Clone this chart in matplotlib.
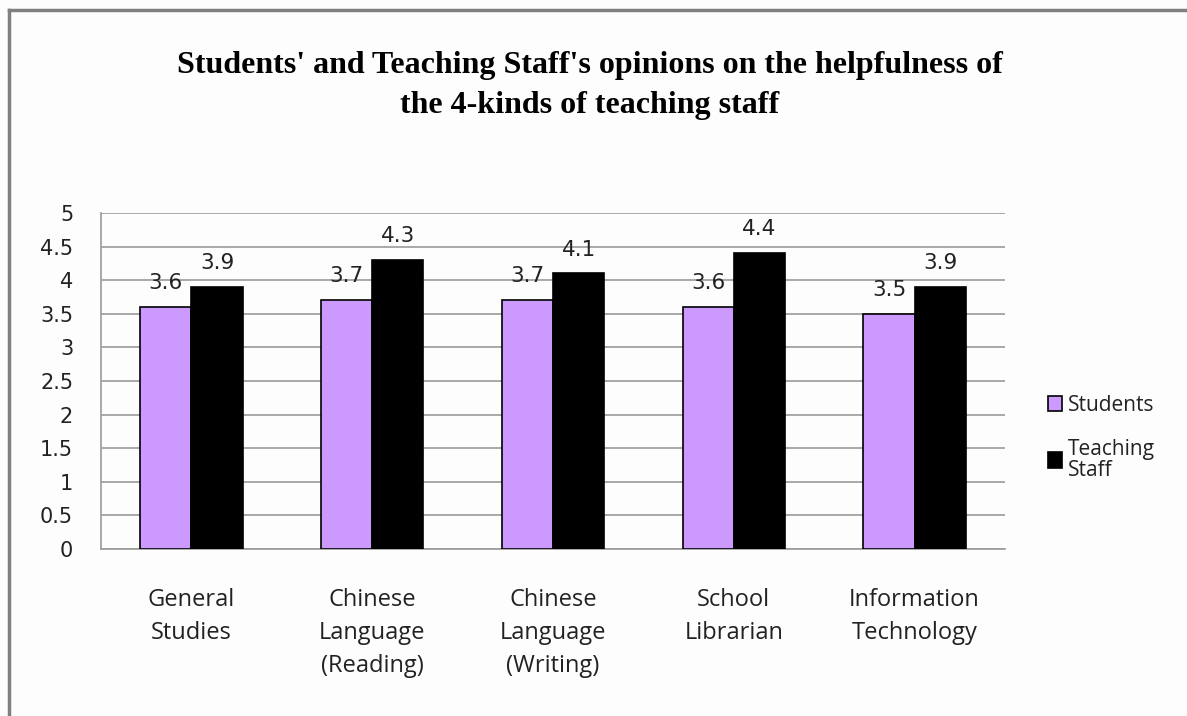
import matplotlib
matplotlib.use("Agg")
import matplotlib.pyplot as plt
from matplotlib.lines import Line2D
import numpy as np

categories = ["General\nStudies", "Chinese\nLanguage\n(Reading)", "Chinese\nLanguage\n(Writing)",
              "School\nLibrarian", "Information\nTechnology"]
students = [3.6, 3.7, 3.7, 3.6, 3.5]
staff = [3.9, 4.3, 4.1, 4.4, 3.9]
series_names = ["Students", "Teaching\nStaff"]
yticks = [0, 0.5, 1, 1.5, 2, 2.5, 3, 3.5, 4, 4.5, 5]
title = "Students' and Teaching Staff's opinions on the helpfulness of\nthe 4-kinds of teaching staff"

W, H = 1187, 716
fig = plt.figure(figsize=(W / 100, H / 100), dpi=100)
fig.patch.set_facecolor("#FDFDFD")

# frame
fig.add_artist(Line2D([9 / W, 9 / W], [0, 1 - 10 / H], color="#808080", lw=2.5))
fig.add_artist(Line2D([9 / W, 1], [1 - 10 / H, 1 - 10 / H], color="#808080", lw=2.5))

ax = fig.add_axes([101 / W, 1 - 549 / H, (1005 - 101) / W, (549 - 213) / H])
ax.set_facecolor("#FDFDFD")

x = np.arange(len(categories))
bw = 0.283
b1 = ax.bar(x - bw / 2, students, bw, color="#CC99FF", edgecolor="black", linewidth=1.2, zorder=3,
            label=series_names[0])
b2 = ax.bar(x + bw / 2, staff, bw, color="black", edgecolor="black", linewidth=1.2, zorder=3,
            label=series_names[1])

lab_font = dict(family="DejaVu Sans", size=15.5, color="#222222")
ax.bar_label(b1, labels=[f"{v:.1f}" for v in students], padding=10, **lab_font)
ax.bar_label(b2, labels=[f"{v:.1f}" for v in staff], padding=10, **lab_font)

ax.set_xlim(-0.5, len(categories) - 0.5)
ax.set_ylim(0, 5)
ax.set_yticks(yticks)
ax.set_yticklabels([f"{t:g}" for t in yticks], family="DejaVu Sans", fontsize=15, color="#222222")
ax.tick_params(axis="y", length=0, pad=20)
ax.set_xticks(x)
ax.set_xticklabels(categories, family="Open Sans", fontsize=17, color="#222222", linespacing=1.5)
ax.tick_params(axis="x", length=0, pad=28)

ax.yaxis.grid(True, color="#9A9A9A", linewidth=1.2, zorder=0)
ax.set_axisbelow(True)
for s in ["top", "right"]:
    ax.spines[s].set_visible(False)
ax.spines["left"].set_color("#9A9A9A")
ax.spines["left"].set_linewidth(1.2)
ax.spines["bottom"].set_color("#9A9A9A")
ax.spines["bottom"].set_linewidth(1.2)

fig.text(590 / W, 1 - 85 / H, title, ha="center", va="center", family="Liberation Serif",
         fontweight="bold", fontsize=23, linespacing=1.5, color="black")

leg = ax.legend(loc="upper left", bbox_to_anchor=(1029 / W, 1 - 376 / H), bbox_transform=fig.transFigure,
                frameon=False, prop=dict(family="Open Sans", size=15), handlelength=0.7, handleheight=0.8,
                handletextpad=0.25, labelspacing=1.1)
for t in leg.get_texts():
    t.set_color("#222222")
    t.set_linespacing(1.0)

fig.savefig("out.png", dpi=100, facecolor=fig.get_facecolor())
